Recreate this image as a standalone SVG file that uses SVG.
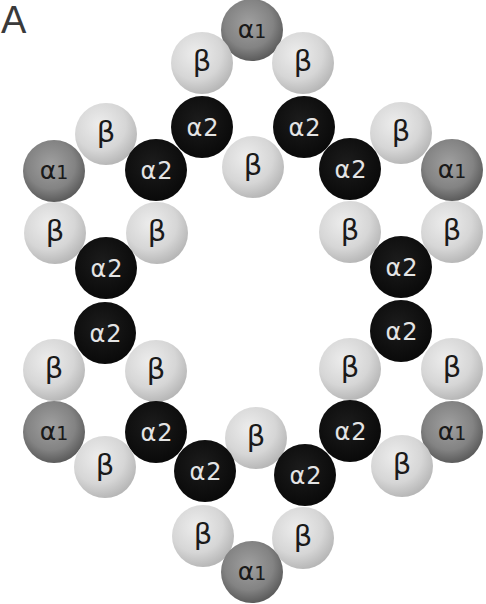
<svg xmlns="http://www.w3.org/2000/svg" width="486" height="604" viewBox="0 0 486 604">
<defs>
<radialGradient id="gB" cx="0.4" cy="0.35" r="0.7">
<stop offset="0" stop-color="#ededed"/>
<stop offset="0.6" stop-color="#d6d6d6"/>
<stop offset="1" stop-color="#b2b2b2"/>
</radialGradient>
<radialGradient id="gA1" cx="0.45" cy="0.4" r="0.65">
<stop offset="0" stop-color="#a0a0a0"/>
<stop offset="0.6" stop-color="#838383"/>
<stop offset="1" stop-color="#525252"/>
</radialGradient>
<radialGradient id="gA2" cx="0.45" cy="0.4" r="0.65">
<stop offset="0" stop-color="#1c1c1c"/>
<stop offset="1" stop-color="#080808"/>
</radialGradient>
</defs>
<style>
.b{fill:url(#gB)}
.a1{fill:url(#gA1)}
.a2{fill:url(#gA2)}
text{font-family:"DejaVu Sans","Liberation Sans",sans-serif;text-anchor:middle}
.tb{font-size:29px;fill:#1a1a1a}
.t1{font-size:25px;fill:#1a1a1a}
.t1 tspan{font-size:19px}
.t2{font-size:24px;fill:#e4e4e4;letter-spacing:1px}
.lbl{font-family:"Liberation Sans",sans-serif;font-size:38px;fill:#3a3a3a;text-anchor:start}
</style>
<rect width="486" height="604" fill="#ffffff"/>
<text class="lbl" x="1" y="33">A</text>

<g id="a1_top"><circle class="a1" cx="252" cy="30" r="31"/><text class="t1" x="252" y="38">α<tspan>1</tspan></text></g>
<g id="b1"><circle class="b" cx="202" cy="63" r="31"/><text class="tb" x="202" y="71">β</text></g>
<g id="b2"><circle class="b" cx="303" cy="63" r="31"/><text class="tb" x="303" y="71">β</text></g>
<g id="a2_1"><circle class="a2" cx="202" cy="127" r="31"/><text class="t2" x="203" y="136">α2</text></g>
<g id="a2_2"><circle class="a2" cx="304" cy="127" r="31"/><text class="t2" x="305" y="136">α2</text></g>
<g id="b3"><circle class="b" cx="253" cy="167" r="31"/><text class="tb" x="253" y="175">β</text></g>

<g id="b4"><circle class="b" cx="106" cy="134" r="31"/><text class="tb" x="106" y="142">β</text></g>
<g id="a1_l1"><circle class="a1" cx="54" cy="171" r="31"/><text class="t1" x="54" y="179">α<tspan>1</tspan></text></g>
<g id="a2_3"><circle class="a2" cx="156" cy="170" r="31"/><text class="t2" x="157" y="179">α2</text></g>
<g id="b5"><circle class="b" cx="55" cy="233" r="31"/><text class="tb" x="55" y="241">β</text></g>
<g id="b6"><circle class="b" cx="157" cy="233" r="31"/><text class="tb" x="157" y="241">β</text></g>
<g id="a2_4"><circle class="a2" cx="106" cy="268" r="31"/><text class="t2" x="107" y="277">α2</text></g>

<g id="b7"><circle class="b" cx="401" cy="133" r="31"/><text class="tb" x="401" y="141">β</text></g>
<g id="a1_r1"><circle class="a1" cx="452" cy="170" r="31"/><text class="t1" x="452" y="178">α<tspan>1</tspan></text></g>
<g id="a2_5"><circle class="a2" cx="350" cy="169" r="31"/><text class="t2" x="351" y="178">α2</text></g>
<g id="b8"><circle class="b" cx="350" cy="232" r="31"/><text class="tb" x="350" y="240">β</text></g>
<g id="b9"><circle class="b" cx="452" cy="232" r="31"/><text class="tb" x="452" y="240">β</text></g>
<g id="a2_6"><circle class="a2" cx="401" cy="267" r="31"/><text class="t2" x="402" y="276">α2</text></g>

<g id="a2_7"><circle class="a2" cx="105" cy="333" r="31"/><text class="t2" x="106" y="342">α2</text></g>
<g id="b10"><circle class="b" cx="54" cy="370" r="31"/><text class="tb" x="54" y="378">β</text></g>
<g id="b11"><circle class="b" cx="156" cy="371" r="31"/><text class="tb" x="156" y="379">β</text></g>
<g id="a1_l2"><circle class="a1" cx="54" cy="432" r="31"/><text class="t1" x="54" y="440">α<tspan>1</tspan></text></g>
<g id="a2_8"><circle class="a2" cx="156" cy="432" r="31"/><text class="t2" x="157" y="441">α2</text></g>
<g id="b12"><circle class="b" cx="105" cy="467" r="31"/><text class="tb" x="105" y="475">β</text></g>

<g id="a2_9"><circle class="a2" cx="401" cy="331" r="31"/><text class="t2" x="402" y="340">α2</text></g>
<g id="b13"><circle class="b" cx="350" cy="369" r="31"/><text class="tb" x="350" y="377">β</text></g>
<g id="b14"><circle class="b" cx="452" cy="369" r="31"/><text class="tb" x="452" y="377">β</text></g>
<g id="a2_10"><circle class="a2" cx="350" cy="431" r="31"/><text class="t2" x="351" y="440">α2</text></g>
<g id="a1_r2"><circle class="a1" cx="452" cy="432" r="31"/><text class="t1" x="452" y="440">α<tspan>1</tspan></text></g>
<g id="b15"><circle class="b" cx="402" cy="466" r="31"/><text class="tb" x="402" y="474">β</text></g>

<g id="b16"><circle class="b" cx="256" cy="438" r="31"/><text class="tb" x="256" y="446">β</text></g>
<g id="a2_11"><circle class="a2" cx="205" cy="471" r="31"/><text class="t2" x="206" y="480">α2</text></g>
<g id="a2_12"><circle class="a2" cx="305" cy="475" r="31"/><text class="t2" x="306" y="484">α2</text></g>
<g id="b17"><circle class="b" cx="203" cy="536" r="31"/><text class="tb" x="203" y="544">β</text></g>
<g id="b18"><circle class="b" cx="303" cy="538" r="31"/><text class="tb" x="303" y="546">β</text></g>
<g id="a1_bot"><circle class="a1" cx="252" cy="572" r="31"/><text class="t1" x="252" y="580">α<tspan>1</tspan></text></g>
</svg>
